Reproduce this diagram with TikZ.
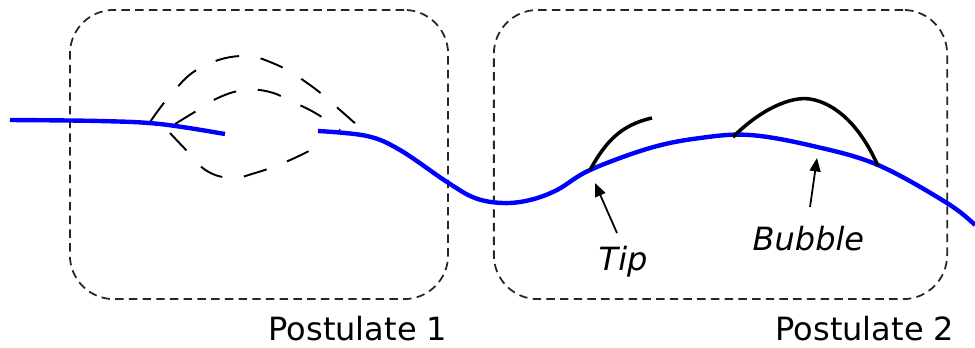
\documentclass[tikz,border=0pt]{standalone}
\usepackage{fontspec}
\setmainfont{DejaVu Sans}
\usetikzlibrary{arrows.meta}
\begin{document}
\begin{tikzpicture}[x=0.01cm,y=-0.01cm,
  pbox/.style={draw=black!85, line width=0.5pt, dash pattern=on 2.4pt off 1.5pt, rounded corners=12.5pt, minimum height=2.89cm, inner sep=0pt},
  blueline/.style={draw=blue, line width=1.25pt},
  blackline/.style={draw=black, line width=1pt},
  ghost/.style={draw=black, line width=0.55pt, dash pattern=on 6.8pt off 6.2pt},
  lbl/.style={font=\fontsize{9.1}{11}\selectfont, inner sep=0pt, anchor=base west},
  arr/.style={draw=black, line width=0.5pt, -{Stealth[inset=0pt,length=3.8pt,width=3.1pt]}}]
\useasboundingbox (0,0) rectangle (975,347);
% boxes
\node[pbox, minimum width=3.78cm] (box1) at (259,154.5) {};
\node[pbox, minimum width=4.53cm] (box2) at (720.5,154.5) {};
% labels
\node[lbl] (p1) at (268,340) {Postulate 1};
\node[lbl] (p2) at (775,340) {Postulate 2};
\node[lbl] (tip) at (598,270) {\itshape Tip};
\node[lbl] (bub) at (752,250) {\itshape Bubble};
% ghost curves
\draw[ghost] plot[smooth, tension=0.7] coordinates {(150,122) (173,92) (200,68) (240,56) (275,64) (310,85) (340,110) (368,135)};
\draw[ghost] plot[smooth, tension=0.7] coordinates {(175,124) (198,110) (220,97) (245,90) (270,92) (293,102) (317,114) (340,130)};
\draw[ghost] plot[smooth, tension=0.7] coordinates {(170,133) (188,152) (207,171) (232,178) (255,173) (278,165) (303,154) (327,141)};
% blue line
\draw[blueline] plot[smooth, tension=0.6] coordinates {(10,120) (100,121) (160,124) (225,134)};
\draw[blueline] plot[smooth, tension=0.6] coordinates {(318,131) (367,136) (400,150) (447,182) (475,198) (503,203) (530,200) (557,190) (590,170) (650,148) (700,138) (750,135) (813,146) (878,165) (947,203) (975,225)};
% black features
\draw[blackline] (590,170) .. controls (605,143) and (620,125) .. (652,118);
\draw[blackline] (733,137) .. controls (760,110) and (790,96) .. (810,99) .. controls (835,103) and (860,125) .. (878,166);
% arrows
\coordinate (tipend) at (595,183);
\coordinate (bubend) at (817,158);
\coordinate (tipstart) at (617,233);
\coordinate (bubstart) at (810,207);
\draw[arr] (tipstart) -- (tipend);
\draw[arr] (bubstart) -- (bubend);
\end{tikzpicture}
\end{document}
